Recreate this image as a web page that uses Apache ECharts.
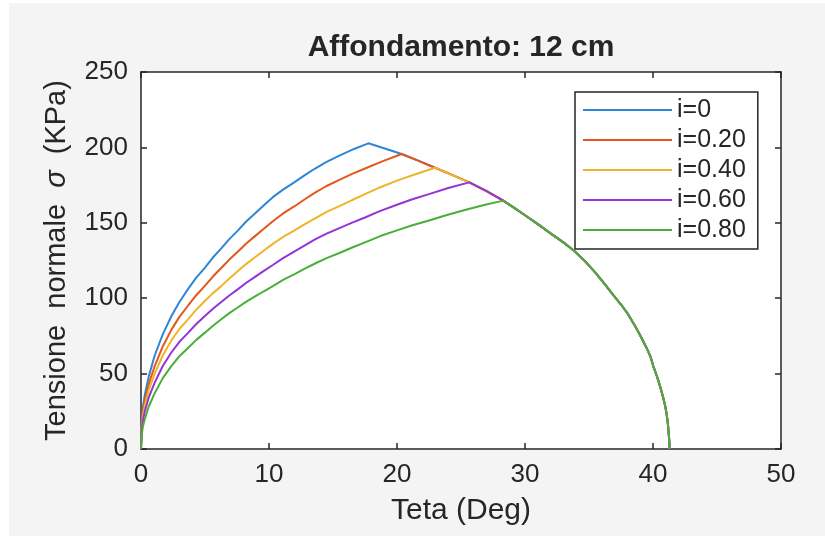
<!DOCTYPE html>
<html>
<head>
<meta charset="utf-8">
<script src="https://cdn.jsdelivr.net/npm/echarts@6/dist/echarts.min.js"></script>
<style>
html,body{margin:0;padding:0;background:#ffffff;}
#bg{position:absolute;left:9px;top:3px;width:816px;height:533px;background:#f4f4f4;}
#c{position:absolute;left:0;top:0;width:825px;height:536px;}
</style>
</head>
<body>
<div id="bg"></div>
<div id="c"></div>
<script>
var seriesNames = ['i=0', 'i=0.20', 'i=0.40', 'i=0.60', 'i=0.80'];
var xTicks = [0, 10, 20, 30, 40, 50];
var yTicks = [0, 50, 100, 150, 200, 250];

// ascending branches [teta, sigma]
var rise0 = [[0,0],[0.05,18],[0.15,28],[0.3,36],[0.6,48],[1.07,62],[1.7,76],[2.37,88],[3,97.5],[3.67,106],[4.3,113.5],[4.97,120],[5.6,126.8],[6.27,133],[6.9,139.2],[7.58,145],[8.2,150.7],[8.88,156],[9.6,161.6],[10.3,167],[11.1,172],[12,177],[12.8,181.6],[13.6,186],[14.5,190.4],[15.5,194.5],[16.6,198.8],[17.76,202.7]];
var rise1 = [[0,0],[0.05,16],[0.15,25],[0.3,32],[0.6,43],[1.07,55],[1.7,68],[2.37,79],[3,87.6],[3.67,95],[4.3,101.8],[4.97,108],[5.6,114.2],[6.27,120],[6.9,125.6],[7.58,131],[8.2,136.1],[8.88,141],[9.6,146],[10.3,151],[11.1,156.2],[12,161],[12.8,165.6],[13.6,170],[14.5,174.4],[15.5,178.5],[16.5,182.4],[17.5,186],[18.9,190.9],[20.36,195.6]];
var rise2 = [[0,0],[0.05,14],[0.15,22],[0.3,29],[0.6,39],[1.07,50],[1.7,62],[2.37,72],[3,79.6],[3.67,86],[4.3,92.2],[4.97,98],[5.6,103.2],[6.27,108],[6.9,113.1],[7.58,118],[8.2,122.6],[8.88,127],[9.6,131.6],[10.3,136],[11.1,140.6],[12,145],[12.8,149.1],[13.6,153],[14.5,157.2],[15.5,161],[16.5,165.1],[17.5,169],[18.7,173.6],[20,178],[21.5,182.4],[22.97,186.5]];
var rise3 = [[0,0],[0.05,12],[0.15,19],[0.3,25],[0.6,34],[1.07,44],[1.7,55],[2.37,64],[3,71],[3.67,77],[4.3,82.7],[4.97,88],[5.6,92.9],[6.27,97.5],[6.9,101.8],[7.58,106],[8.2,110.1],[8.88,114],[9.6,118.1],[10.3,122],[11.1,126.6],[12,131],[12.8,135.1],[13.6,139],[14.5,142.8],[15.5,146.5],[16.5,150.1],[17.5,153.5],[18.7,157.9],[20,162],[21.2,165.6],[22.5,169],[24,173.1],[25.65,176.8]];
var rise4 = [[0,0],[0.05,9],[0.15,15],[0.3,20],[0.6,28],[1.07,37],[1.7,47],[2.37,55],[3,61.5],[3.67,67],[4.3,72.2],[4.97,77],[5.6,81.6],[6.27,86],[6.9,90.1],[7.58,94],[8.2,97.6],[8.88,101],[9.6,104.6],[10.3,108],[11.1,112.1],[12,116],[12.8,119.6],[13.6,123],[14.5,126.6],[15.5,130],[16.5,133.6],[17.5,137],[18.7,141.2],[20,145],[21.2,148.4],[22.5,151.5],[23.9,155.2],[25.3,158.5],[26.8,161.8],[28.3,164.7]];
// common descending envelope [teta, sigma]
var envelope = [[17.76,202.7],[19.05,199.3],[20.36,195.6],[21.65,191.2],[22.97,186.5],[24.3,181.8],[25.65,176.8],[27,171],[28.3,164.7],[29.1,160.2],[30,155],[31,149.1],[32,143],[33,137],[33.9,131],[34.7,124.4],[35.5,117],[36.2,109.6],[36.9,102],[37.5,95.8],[38,90],[38.4,84.4],[38.7,80],[39.1,73.8],[39.5,67],[39.8,61.3],[40.02,55],[40.3,48.4],[40.5,43],[40.65,38.7],[40.8,34],[40.95,28.6],[41.05,24],[41.15,17.8],[41.2,13],[41.25,8],[41.28,4],[41.3,0]];

var rises = [rise0, rise1, rise2, rise3, rise4];
var colors = ['#2f86d4', '#e4571c', '#f0b429', '#9434d8', '#4aae3a'];

function buildCurve(rise) {
  var peak = rise[rise.length - 1][0];
  var tail = envelope.filter(function (p) { return p[0] > peak + 0.01; });
  return rise.concat(tail);
}

var series = seriesNames.map(function (n, k) {
  return {
    name: n, type: 'line', data: buildCurve(rises[k]),
    symbol: 'none', showSymbol: false, smooth: false,
    lineStyle: { color: colors[k], width: 2 }, itemStyle: { color: colors[k] },
    xAxisIndex: 0, yAxisIndex: 0, animation: false
  };
});

var axisColor = '#262626';
var font = 'Liberation Sans, Arial, Helvetica, sans-serif';

var chart = echarts.init(document.getElementById('c'), null, { renderer: 'canvas' });
chart.setOption({
  backgroundColor: 'transparent',
  animation: false,
  textStyle: { fontFamily: font },
  grid: { left: 141, top: 72, right: 44, bottom: 87, show: true, backgroundColor: '#ffffff', borderWidth: 0 },
  graphic: [{
    type: 'text', x: 461, y: 33,
    style: { text: 'Affondamento: 12 cm', font: 'bold 30px ' + font, fill: axisColor, textAlign: 'center', textVerticalAlign: 'top' }
  }],
  legend: {
    show: true, orient: 'vertical', left: 575, top: 92,
    data: seriesNames,
    icon: 'rect',
    itemWidth: 89, itemHeight: 2, itemGap: 0,
    padding: [3, 12, 4, 8],
    backgroundColor: '#ffffff', borderColor: axisColor, borderWidth: 1.5, borderRadius: 0,
    textStyle: { fontSize: 25, color: axisColor, fontFamily: font, lineHeight: 30 },
    selectedMode: false
  },
  xAxis: [{
    type: 'value', position: 'bottom', min: 0, max: 50, interval: 10,
    name: 'Teta (Deg)', nameLocation: 'middle', nameGap: 47,
    nameTextStyle: { fontSize: 30, color: axisColor, fontFamily: font },
    axisLine: { show: true, onZero: false, lineStyle: { color: axisColor, width: 1.5 } },
    axisTick: { show: true, inside: true, length: 6, lineStyle: { color: axisColor, width: 1.5 } },
    axisLabel: { fontSize: 26, color: axisColor, margin: 13, fontFamily: font,
      formatter: function (v) { return xTicks.indexOf(v) >= 0 ? String(v) : ''; } },
    splitLine: { show: false }
  }, {
    type: 'value', position: 'top', min: 0, max: 50, interval: 10,
    axisLine: { show: true, onZero: false, lineStyle: { color: axisColor, width: 1.5 } },
    axisTick: { show: true, inside: true, length: 6, lineStyle: { color: axisColor, width: 1.5 } },
    axisLabel: { show: false }, splitLine: { show: false }
  }],
  yAxis: [{
    type: 'value', position: 'left', min: 0, max: 250, interval: 50,
    name: '{a|Tensione  normale  }{b|σ}{a|  (KPa)}', nameLocation: 'middle', nameGap: 70, nameRotate: 90,
    nameTextStyle: { fontSize: 29, color: axisColor, fontFamily: font,
      rich: { a: { fontSize: 29, color: axisColor, fontFamily: font }, b: { fontSize: 29, color: axisColor, fontFamily: font, fontStyle: 'italic' } } },
    axisLine: { show: true, onZero: false, lineStyle: { color: axisColor, width: 1.5 } },
    axisTick: { show: true, inside: true, length: 6, lineStyle: { color: axisColor, width: 1.5 } },
    axisLabel: { fontSize: 26, color: axisColor, margin: 13, fontFamily: font,
      formatter: function (v) { return yTicks.indexOf(v) >= 0 ? String(v) : ''; } },
    splitLine: { show: false }
  }, {
    type: 'value', position: 'right', min: 0, max: 250, interval: 50,
    axisLine: { show: true, onZero: false, lineStyle: { color: axisColor, width: 1.5 } },
    axisTick: { show: true, inside: true, length: 6, lineStyle: { color: axisColor, width: 1.5 } },
    axisLabel: { show: false }, splitLine: { show: false }
  }],
  series: series
});
</script>
</body>
</html>
